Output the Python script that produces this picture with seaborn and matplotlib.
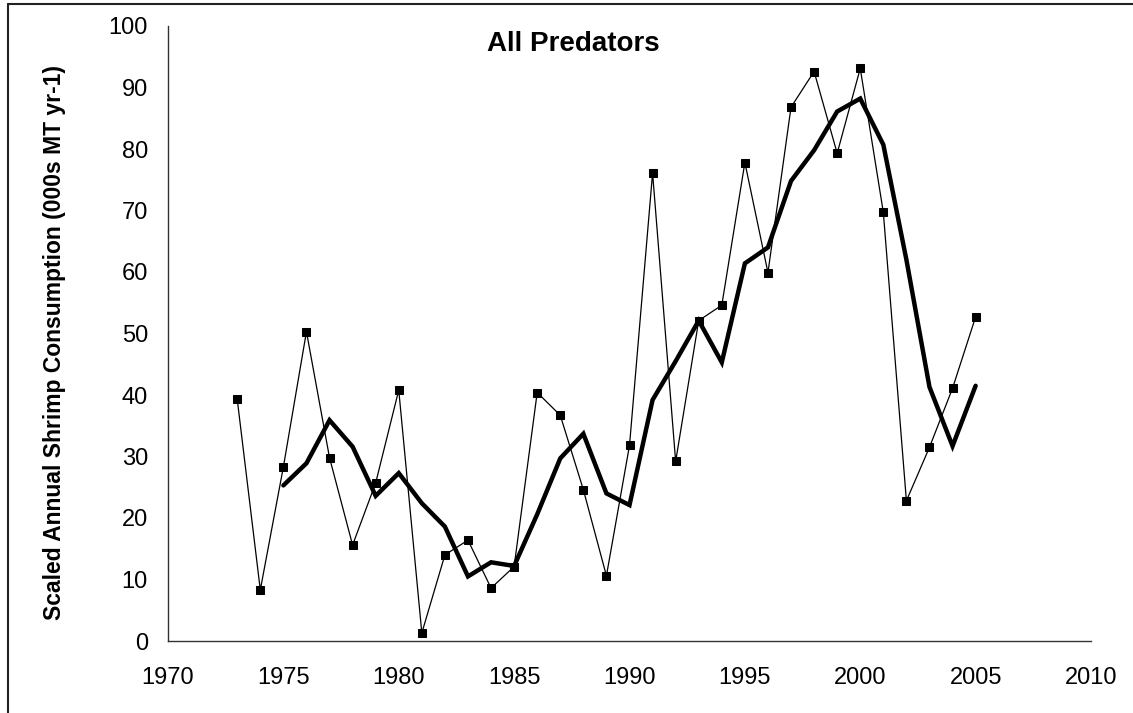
import matplotlib
matplotlib.use("Agg")
import matplotlib.pyplot as plt
from matplotlib.lines import Line2D
import numpy as np
import pandas as pd
import seaborn as sns

# data
years = list(range(1973, 2006))
annual = [39.3, 8.3, 28.3, 50.3, 29.8, 15.6, 25.7, 40.8, 1.3, 14.0,
          16.4, 8.6, 12.1, 40.4, 36.7, 24.6, 10.6, 31.8, 76.1, 29.2,
          52.1, 54.6, 77.8, 59.9, 86.8, 92.6, 79.3, 93.1, 69.7, 22.8,
          31.5, 41.1, 52.7]

avg_years = list(range(1975, 2006))
avg3 = [25.3, 28.9, 35.9, 31.6, 23.6, 27.3, 22.4, 18.6, 10.5, 12.8,
        12.2, 20.6, 29.7, 33.7, 24.0, 22.1, 39.2, 45.5, 52.1, 45.3,
        61.4, 64.0, 74.8, 79.8, 86.1, 88.2, 80.7, 62.0, 41.3, 31.7,
        41.5]

title = "All Predators"
ylabel = "Scaled Annual Shrimp Consumption (000s MT yr-1)"
xticks = list(range(1970, 2011, 5))
yticks = list(range(0, 101, 10))

df_annual = pd.DataFrame({"year": years, "value": annual})
df_avg = pd.DataFrame({"year": avg_years, "value": avg3})

sns.set_style("white")
plt.rcParams["font.family"] = ["Liberation Sans", "DejaVu Sans"]
plt.rcParams["text.color"] = "black"
plt.rcParams["axes.labelcolor"] = "black"

fig = plt.figure(figsize=(11.33, 7.13), dpi=100)
ax = fig.add_axes([168 / 1133, 72 / 713, 923 / 1133, 615 / 713])

sns.lineplot(data=df_avg, x="year", y="value", ax=ax, color="black",
             linewidth=3.2, solid_joinstyle="miter")
sns.lineplot(data=df_annual, x="year", y="value", ax=ax, color="black",
             linewidth=0.9, marker="s", markersize=5.5,
             markeredgecolor="black", markerfacecolor="black")

ax.set_xlim(1970, 2010)
ax.set_ylim(0, 100)
ax.set_xticks(xticks)
ax.set_yticks(yticks)
ax.set_xlabel("")
ax.set_ylabel(ylabel, fontsize=16.5, fontweight="bold", color="black")
ax.yaxis.set_label_coords(-0.111, 0.485)

for s in ["top", "right"]:
    ax.spines[s].set_visible(False)
for s in ["left", "bottom"]:
    ax.spines[s].set_color("#333333")
    ax.spines[s].set_linewidth(1.0)

ax.tick_params(axis="both", direction="out", length=4.5, width=1.0,
               color="#333333", labelsize=17, labelcolor="black")
ax.tick_params(axis="x", pad=14)
ax.tick_params(axis="y", pad=10)

fig.text(573 / 1133, 1 - 44 / 713, title, ha="center", va="center",
         fontsize=20, fontweight="bold", color="black")

# chart border (top and left edges visible)
fig.add_artist(Line2D([8 / 1133, 1.0], [1 - 4 / 713, 1 - 4 / 713],
                      transform=fig.transFigure, color="#222222", linewidth=1.5))
fig.add_artist(Line2D([8 / 1133, 8 / 1133], [0.0, 1 - 4 / 713],
                      transform=fig.transFigure, color="#222222", linewidth=1.5))

fig.savefig("out.png", dpi=100)
